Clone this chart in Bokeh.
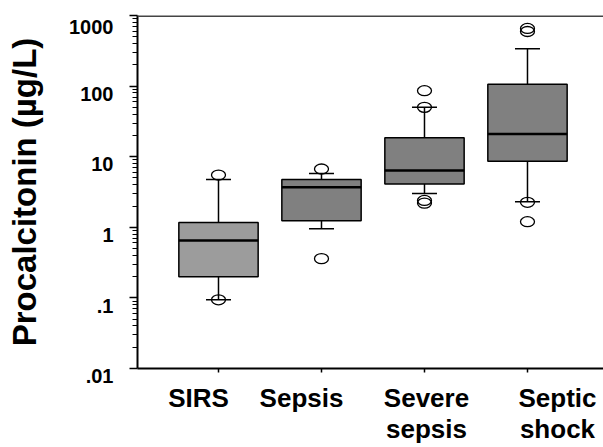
import math
from bokeh.plotting import figure
from bokeh.models import (ColumnDataSource, Range1d, FixedTicker, Span,
                          CustomJSTickFormatter)
from bokeh.embed import file_html
from bokeh.resources import INLINE

# ---- data ----
categories = ["SIRS", "Sepsis", "Severe\nsepsis", "Septic\nshock"]
q1 = [0.20, 1.24, 4.1, 8.6]
median = [0.65, 3.7, 6.4, 21.0]
q3 = [1.17, 4.75, 18.5, 106.0]
whisker_low = [0.094, 0.95, 3.0, 2.3]
whisker_high = [4.75, 5.8, 50.0, 337.0]
outlier_group = [1, 1, 2, 2, 3, 3, 3, 3, 4, 4, 4, 4]
outlier_value = [5.5, 0.094, 6.7, 0.36, 86.0, 50.0, 2.4, 2.2, 655.0, 593.0, 2.26, 1.2]
y_ticks = [0.01, 0.1, 1, 10, 100, 1000]
y_tick_labels = [".01", ".1", "1", "10", "100", "1000"]

# ---- styles / layout ----
box_colors = ["#9c9c9c", "#808080", "#808080", "#808080"]
box_width = 0.77
label_dx_px = [-20, -20, 2, 30]
FONT = "Liberation Sans"
W, H = 603, 447
BL, BT, BB = 137, 15, 79

xs = list(range(1, len(categories) + 1))
x_start, x_end = 0.2136, 4.738
px_per_unit = (W - BL) / (x_end - x_start)

p = figure(width=W, height=H, output_backend="svg", toolbar_location=None,
           x_range=Range1d(x_start, x_end), y_range=Range1d(0.01, 1000),
           y_axis_type="log",
           min_border_left=BL, min_border_right=0, min_border_top=BT,
           min_border_bottom=BB)
p.outline_line_color = None
p.xgrid.visible = False
p.ygrid.visible = False
p.background_fill_color = "white"

# y axis
yax = p.yaxis[0]
yax.ticker = FixedTicker(ticks=y_ticks,
                         minor_ticks=[m * 10.0 ** e for e in range(-2, 3) for m in range(2, 10)])
yax.formatter = CustomJSTickFormatter(args=dict(labels=y_tick_labels),
                                      code="return '\\n' + labels[index]")
yax.major_label_text_font = FONT
yax.major_label_text_font_style = "bold"
yax.major_label_text_font_size = "20px"
yax.major_label_text_color = "black"
yax.major_label_text_line_height = 0.7
yax.major_label_standoff = 16
yax.axis_line_width = 2
yax.axis_line_color = "black"
yax.major_tick_out = 8
yax.major_tick_in = 0
yax.major_tick_line_width = 1.5
yax.minor_tick_out = 5
yax.minor_tick_in = 0
yax.minor_tick_line_width = 1
yax.axis_label = "Procalcitonin (µg/L)"
yax.axis_label_text_font = FONT
yax.axis_label_text_font_style = "bold"
yax.axis_label_text_font_size = "33px"
yax.axis_label_text_color = "black"
yax.axis_label_standoff = 23

# x axis: tick marks at the box centres (as minor ticks), category labels
# at the shifted positions used in the reference (as invisible major ticks)
label_pos = [x + d / px_per_unit for x, d in zip(xs, label_dx_px)]
xax = p.xaxis[0]
xax.ticker = FixedTicker(ticks=label_pos, minor_ticks=xs)
xax.formatter = CustomJSTickFormatter(args=dict(labels=categories),
                                      code="return labels[index]")
xax.axis_line_width = 2
xax.axis_line_color = "black"
xax.major_tick_line_color = None
xax.major_tick_out = 0
xax.major_tick_in = 0
xax.minor_tick_out = 4
xax.minor_tick_in = 0
xax.minor_tick_line_width = 1.5
xax.minor_tick_line_color = "black"
xax.major_label_standoff = 10
xax.major_label_text_font = FONT
xax.major_label_text_font_style = "bold"
xax.major_label_text_font_size = "26px"
xax.major_label_text_color = "black"
xax.major_label_text_line_height = 1.05

# top border line
p.add_layout(Span(location=1000, dimension="width", line_color="#444444", line_width=3))

src = ColumnDataSource(dict(
    x=xs, q1=q1, q3=q3, med=median, lo=whisker_low, hi=whisker_high,
    color=box_colors,
    x0=[x - box_width / 2 for x in xs], x1=[x + box_width / 2 for x in xs],
))

# whiskers
p.segment(x0="x", y0="q3", x1="x", y1="hi", line_color="black", line_width=1.5, source=src)
p.segment(x0="x", y0="q1", x1="x", y1="lo", line_color="black", line_width=1.5, source=src)
p.scatter(x="x", y="hi", marker="dash", size=25, line_color="black", line_width=1.5, source=src)
p.scatter(x="x", y="lo", marker="dash", size=25, line_color="black", line_width=1.5, source=src)

# boxes
p.vbar(x="x", width=box_width, bottom="q1", top="q3", fill_color="color",
       line_color="black", line_width=1.5, source=src)
p.segment(x0="x0", y0="med", x1="x1", y1="med", line_color="black", line_width=2.5, source=src)

# outliers
out_src = ColumnDataSource(dict(x=outlier_group, y=outlier_value))
p.ellipse(x="x", y="y", width=14, height=10, width_units="screen", height_units="screen",
          fill_color=None, line_color="black", line_width=1.3, source=out_src)

open("out.html", "w").write(file_html(p, INLINE))
